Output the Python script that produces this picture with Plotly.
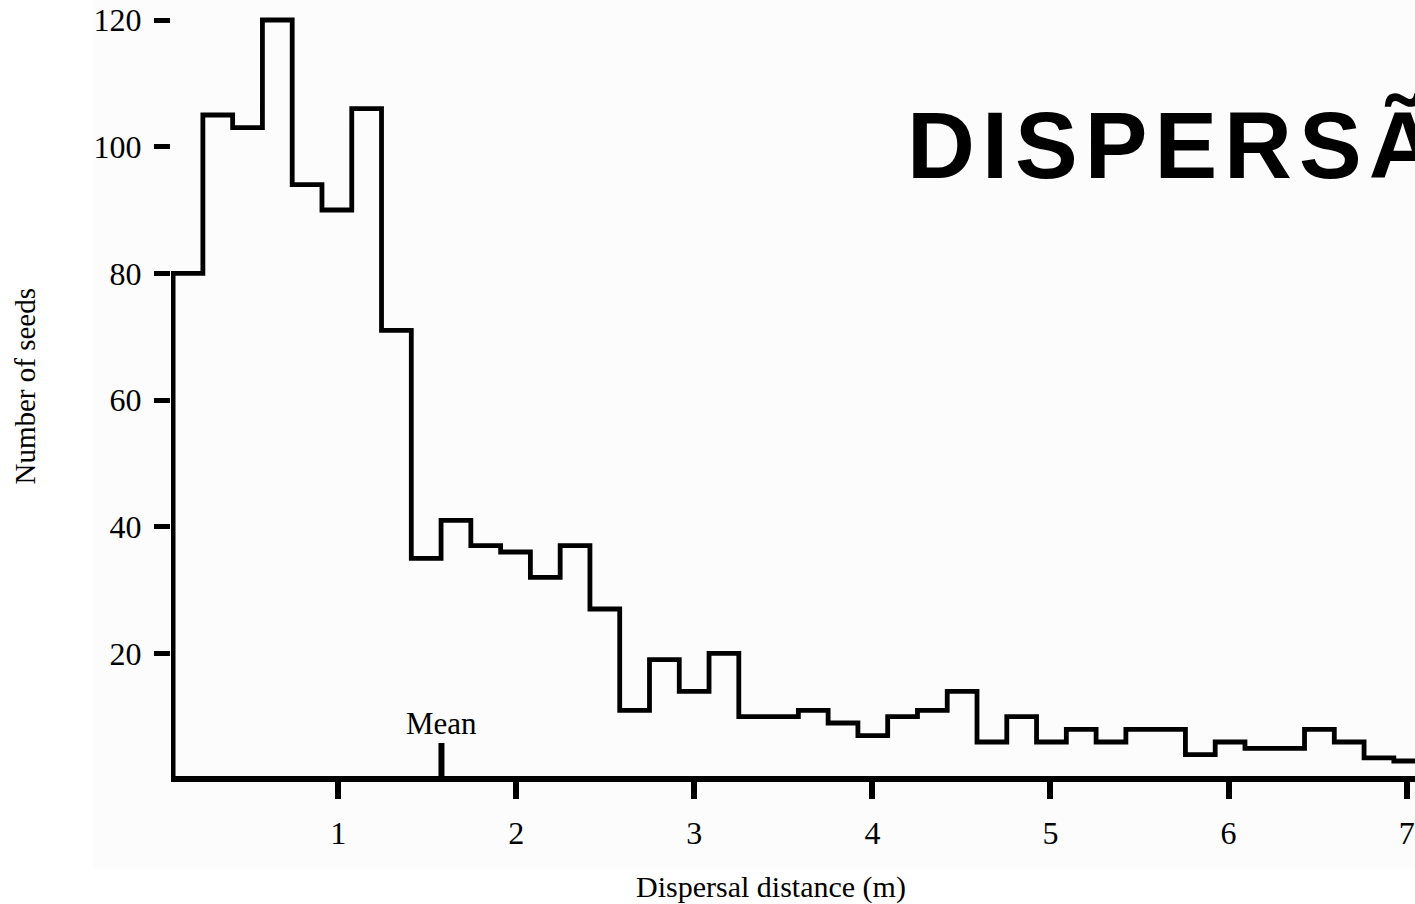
import plotly.graph_objects as go

# Seed dispersal histogram: number of seeds per distance class
bin_start = 0.073      # left edge of the first distance class (m)
bin_width = 0.1672     # width of each distance class (m)
seed_counts = [80, 105, 103, 120, 94, 90, 106, 71, 35, 41,
               37, 36, 32, 37, 27, 11, 19, 14, 20, 10,
               10, 11, 9, 7, 10, 11, 14, 6, 10, 6,
               8, 6, 8, 8, 4, 6, 5, 5, 8, 6,
               3.5, 3]
mean_distance = 1.58
x_ticks = [1, 2, 3, 4, 5, 6, 7]
y_ticks = [20, 40, 60, 80, 100, 120]

edges = [bin_start + bin_width * i for i in range(len(seed_counts) + 1)]
xs = [edges[0]] + edges
ys = [0] + seed_counts + [seed_counts[-1]]

SERIF = "Liberation Serif, Times New Roman, serif"
Y_MIN, Y_MAX = 0.63, 123.16

fig = go.Figure()
fig.add_trace(go.Scatter(
    x=xs, y=ys, mode="lines",
    line=dict(color="black", width=4.8, shape="hv"),
    hoverinfo="skip", showlegend=False,
))

# faint tint of the figure panel
fig.add_shape(type="rect", xref="paper", yref="paper",
              x0=-0.0627, x1=1.0, y0=-0.1186, y1=1.0,
              fillcolor="#fcfcfc", line=dict(width=0), layer="below")

# mean marker on the distance axis
fig.add_shape(type="line", xref="x", yref="y", x0=mean_distance, x1=mean_distance,
              ysizemode="pixel", yanchor=0, y0=0, y1=37,
              line=dict(color="black", width=6))
fig.add_annotation(x=mean_distance, y=Y_MIN, xref="x", yref="y", yshift=53,
                   text="Mean", showarrow=False, yanchor="middle",
                   font=dict(family=SERIF, size=31, color="black"))

# slide heading
fig.add_annotation(x=0.590, y=0.813, xref="paper", yref="paper",
                   xanchor="left", yanchor="middle", showarrow=False,
                   text='<span style="letter-spacing:7px"><b>DISPERSÃO</b></span>',
                   font=dict(family="Liberation Sans, Arial, sans-serif",
                             size=94, color="black"))

# axis titles
fig.add_annotation(x=0.4823, y=-0.143, xref="paper", yref="paper",
                   xanchor="center", yanchor="middle", showarrow=False,
                   text="Dispersal distance (m)",
                   font=dict(family=SERIF, size=30, color="black"))
fig.add_annotation(x=-0.1175, y=0.503, xref="paper", yref="paper",
                   xanchor="center", yanchor="middle", showarrow=False,
                   textangle=-90, text="Number of seeds",
                   font=dict(family=SERIF, size=29, color="black"))

fig.update_layout(
    width=1415, height=904,
    margin=dict(l=171, r=0, t=0, b=128, autoexpand=False),
    paper_bgcolor="white", plot_bgcolor="rgba(0,0,0,0)",
    font=dict(family=SERIF, color="black"),
    xaxis=dict(
        range=[0.0612, 7.047], tickvals=x_ticks, ticktext=[str(v) for v in x_ticks],
        ticks="outside", ticklen=17, tickwidth=6, tickcolor="black",
        showline=True, linewidth=6, linecolor="black",
        showgrid=False, zeroline=False,
        tickfont=dict(family=SERIF, size=32, color="black"),
        ticklabelstandoff=7,
    ),
    yaxis=dict(
        range=[Y_MIN, Y_MAX], tickvals=y_ticks, ticktext=[str(v) for v in y_ticks],
        ticks="outside", ticklen=16, tickwidth=5, tickcolor="black",
        showline=False, showgrid=False, zeroline=False,
        tickfont=dict(family=SERIF, size=32, color="black"),
        ticklabelstandoff=6,
    ),
)

fig.write_html("out.html")
